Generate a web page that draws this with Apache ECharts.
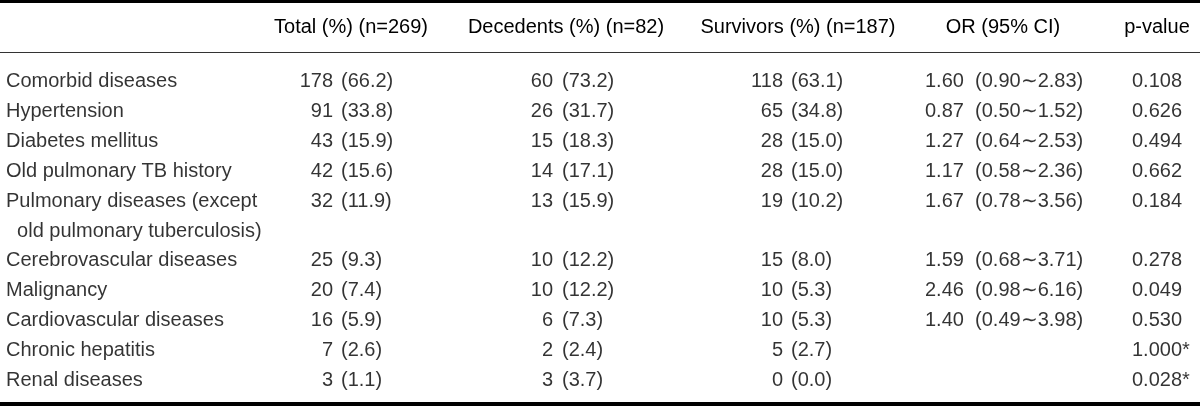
<!DOCTYPE html>
<html>
<head>
<meta charset="utf-8">
<script src="https://cdn.jsdelivr.net/npm/echarts@6/dist/echarts.min.js"></script>
<style>
  html, body { margin: 0; padding: 0; background: #ffffff; }
  #chart { width: 1200px; height: 407px; }
</style>
</head>
<body>
<div id="chart"></div>
<script>
// ---- Table data ----
var headers = ['Total (%) (n=269)', 'Decedents (%) (n=82)', 'Survivors (%) (n=187)', 'OR (95% CI)', 'p-value'];
var rowLabels = [
  'Comorbid diseases',
  'Hypertension',
  'Diabetes mellitus',
  'Old pulmonary TB history',
  'Pulmonary diseases (except',
  '  old pulmonary tuberculosis)',
  'Cerebrovascular diseases',
  'Malignancy',
  'Cardiovascular diseases',
  'Chronic hepatitis',
  'Renal diseases'
];
var totalN   = [178, 91, 43, 42, 32, null, 25, 20, 16, 7, 3];
var totalPct = ['66.2', '33.8', '15.9', '15.6', '11.9', null, '9.3', '7.4', '5.9', '2.6', '1.1'];
var decN     = [60, 26, 15, 14, 13, null, 10, 10, 6, 2, 3];
var decPct   = ['73.2', '31.7', '18.3', '17.1', '15.9', null, '12.2', '12.2', '7.3', '2.4', '3.7'];
var survN    = [118, 65, 28, 28, 19, null, 15, 10, 10, 5, 0];
var survPct  = ['63.1', '34.8', '15.0', '15.0', '10.2', null, '8.0', '5.3', '5.3', '2.7', '0.0'];
var orVal    = ['1.60', '0.87', '1.27', '1.17', '1.67', null, '1.59', '2.46', '1.40', null, null];
var ciLow    = ['0.90', '0.50', '0.64', '0.58', '0.78', null, '0.68', '0.98', '0.49', null, null];
var ciHigh   = ['2.83', '1.52', '2.53', '2.36', '3.56', null, '3.71', '6.16', '3.98', null, null];
var pVal     = ['0.108', '0.626', '0.494', '0.662', '0.184', null, '0.278', '0.049', '0.530', '1.000*', '0.028*'];

// ---- Layout / style ----
var FONT = '"Liberation Sans", Arial, Helvetica, sans-serif';
var FS = 20;
var TXT = '#000000';
var headerX = [351, 566, 798, 1003, 1157];
var headerY = 27;

function texts(arr, fmt) {
  return arr.map(function (v) { return v === null ? null : fmt(v); });
}
function colSeries(name, anchorX, align, strs) {
  var data = [];
  strs.forEach(function (s, i) { if (s !== null) data.push([anchorX, i, s]); });
  return {
    name: name,
    type: 'scatter',
    symbolSize: 0,
    silent: true,
    data: data,
    label: {
      show: true,
      position: 'inside',
      align: align,
      verticalAlign: 'middle',
      formatter: function (p) { return p.data[2]; },
      fontSize: FS,
      fontFamily: FONT,
      color: TXT
    }
  };
}

var series = [
  colSeries('rows', 6, 'left', rowLabels),
  colSeries('totalN', 333, 'right', texts(totalN, String)),
  colSeries('totalPct', 341, 'left', texts(totalPct, function (v) { return '(' + v + ')'; })),
  colSeries('decN', 553, 'right', texts(decN, String)),
  colSeries('decPct', 562, 'left', texts(decPct, function (v) { return '(' + v + ')'; })),
  colSeries('survN', 783, 'right', texts(survN, String)),
  colSeries('survPct', 791, 'left', texts(survPct, function (v) { return '(' + v + ')'; })),
  colSeries('or', 925, 'left', orVal.map(function (v, i) {
    return v === null ? null : v + '  (' + ciLow[i] + '\u223C' + ciHigh[i] + ')';
  })),
  colSeries('p', 1132, 'left', pVal)
];

var graphics = [
  { type: 'line', shape: { x1: 0, y1: 1.5, x2: 1200, y2: 1.5 }, style: { stroke: '#000', lineWidth: 3 }, silent: true },
  { type: 'line', shape: { x1: 0, y1: 52.5, x2: 1200, y2: 52.5 }, style: { stroke: '#333', lineWidth: 1 }, silent: true },
  { type: 'line', shape: { x1: 0, y1: 404, x2: 1200, y2: 404 }, style: { stroke: '#000', lineWidth: 4 }, silent: true }
];
headers.forEach(function (h, i) {
  graphics.push({
    type: 'text',
    x: headerX[i],
    y: headerY,
    silent: true,
    style: { text: h, align: 'center', verticalAlign: 'middle', fontSize: FS, fontFamily: FONT, fill: TXT }
  });
});

var chart = echarts.init(document.getElementById('chart'), null, { renderer: 'canvas' });
chart.setOption({
  animation: false,
  backgroundColor: '#ffffff',
  grid: { left: 0, right: 0, top: 66.5, bottom: 11.5 },
  xAxis: { type: 'value', min: 0, max: 1200, show: false },
  yAxis: { type: 'category', data: rowLabels, inverse: true, show: false },
  graphic: graphics,
  series: series
});
</script>
</body>
</html>
